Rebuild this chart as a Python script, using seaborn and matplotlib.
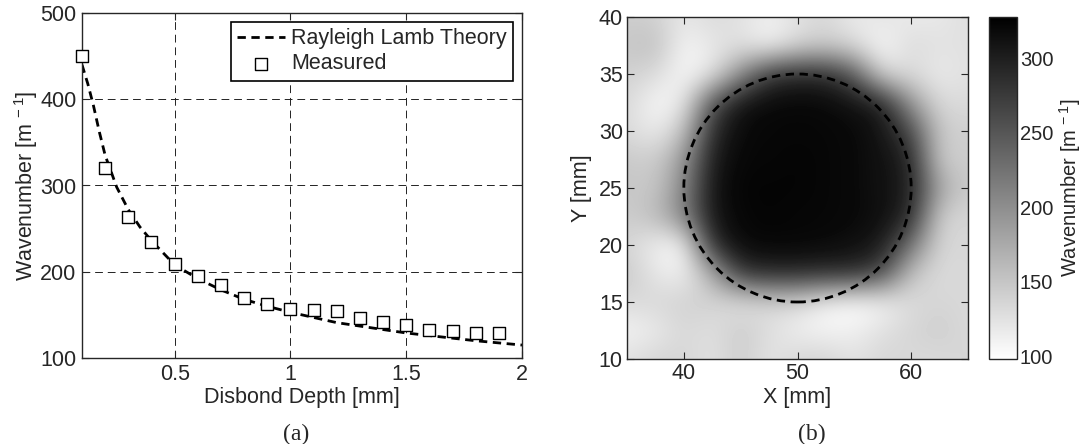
import numpy as np
import matplotlib
matplotlib.use('Agg')
import matplotlib.pyplot as plt
from matplotlib.patches import Circle
import seaborn as sns

# (a) dispersion: theory curve and measured points
theory_depth = [0.1, 0.125, 0.15, 0.175, 0.2, 0.25, 0.3, 0.35, 0.4, 0.45, 0.5,
                0.6, 0.7, 0.8, 0.9, 1.0, 1.1, 1.2, 1.3, 1.4, 1.5, 1.6, 1.7, 1.8, 1.9, 2.0]
theory_wn = [440, 418, 392, 362, 335, 298, 272, 252, 236, 222, 208,
             192, 179, 168, 160, 153, 147, 141, 137, 133, 129, 126, 123, 120, 117.5, 115]
measured_depth = [0.1, 0.2, 0.3, 0.4, 0.5, 0.6, 0.7, 0.8, 0.9, 1.0,
                  1.1, 1.2, 1.3, 1.4, 1.5, 1.6, 1.7, 1.8, 1.9]
measured_wn = [450, 320, 263, 234, 209, 195, 185, 170, 163, 157,
               156, 154, 146, 142, 138, 133, 131, 129.5, 128.5]

# (b) wavenumber map, 2.5 mm grid, rows from Y=40 (top) down to Y=10
map_x = [35, 37.5, 40, 42.5, 45, 47.5, 50, 52.5, 55, 57.5, 60, 62.5, 65]
map_y = [40, 37.5, 35, 32.5, 30, 27.5, 25, 22.5, 20, 17.5, 15, 12.5, 10]
map_wn = [
    [142, 140, 120, 132, 126, 114, 126, 136, 116, 124, 116, 118, 128],
    [148, 158, 106, 120, 126, 104, 132, 142, 130, 102, 132, 124, 126],
    [140, 132, 104, 118, 200, 280, 292, 290, 250, 130, 130, 116, 126],
    [134, 104, 114, 255, 312, 320, 322, 320, 312, 300, 190, 130, 132],
    [132, 114, 150, 290, 320, 322, 322, 322, 320, 310, 265, 145, 142],
    [148, 142, 190, 305, 322, 322, 324, 322, 320, 312, 300, 140, 145],
    [150, 146, 205, 312, 324, 324, 324, 322, 320, 312, 302, 180, 145],
    [144, 158, 210, 310, 322, 324, 322, 322, 320, 315, 295, 138, 136],
    [136, 112, 102, 290, 320, 322, 322, 320, 315, 305, 225, 132, 136],
    [148, 120, 110, 170, 282, 292, 292, 288, 288, 262, 150, 130, 134],
    [132, 134, 140, 138, 124, 134, 132, 108, 98, 108, 130, 136, 132],
    [108, 116, 134, 126, 145, 128, 112, 108, 112, 126, 136, 142, 132],
    [126, 136, 136, 124, 145, 122, 136, 138, 124, 136, 132, 132, 136],
]
wn_min, wn_max = 98, 328
circle_center = (50, 25)
circle_radius = 10

sns.set_style('ticks')
plt.rcParams['font.family'] = ['Liberation Sans', 'DejaVu Sans']
plt.rcParams['mathtext.default'] = 'regular'
plt.rcParams['axes.linewidth'] = 1.0
FS = 15.5

fig = plt.figure(figsize=(10.84, 4.44), dpi=100)
W, H = 1084, 444


def box(x0, y0, x1, y1):
    return [x0 / W, 1 - y1 / H, (x1 - x0) / W, (y1 - y0) / H]


# ---- panel (a)
ax = fig.add_axes(box(82, 13, 522, 358))
sns.lineplot(x=theory_depth, y=theory_wn, ax=ax, color='k', lw=2,
             linestyle=(0, (3, 2)), label='Rayleigh Lamb Theory')
sns.scatterplot(x=measured_depth, y=measured_wn, ax=ax, marker='s', s=80,
                color='white', edgecolor='black', linewidth=1,
                label='Measured', zorder=3, clip_on=False)
ax.set_xlim(0.1, 2)
ax.set_ylim(100, 500)
ax.set_xticks([0.5, 1, 1.5, 2])
ax.set_xticklabels(['0.5', '1', '1.5', '2'])
ax.set_yticks([100, 200, 300, 400, 500])
ax.grid(True, color='#222222', lw=0.7, linestyle=(0, (8, 5)))
ax.tick_params(direction='in', top=True, right=True, length=5,
               labelsize=FS, pad=4, width=0.8)
ax.set_xlabel('Disbond Depth [mm]', fontsize=FS, labelpad=2)
ax.set_ylabel('Wavenumber [m$^{\\,-1}$]', fontsize=FS, labelpad=0)
leg = ax.legend(loc='upper right', fontsize=FS, frameon=True, fancybox=False,
                edgecolor='black', framealpha=1, borderaxespad=0.4,
                handlelength=2.2, handletextpad=0.3, borderpad=0.3,
                labelspacing=0.2)
leg.get_frame().set_linewidth(1.2)
for s in ax.spines.values():
    s.set_visible(True)

# ---- panel (b)
bx = fig.add_axes(box(627, 17, 968, 359))
im = bx.imshow(np.array(map_wn, dtype=float), cmap='gray_r', vmin=wn_min, vmax=wn_max,
               extent=(map_x[0] - 1.25, map_x[-1] + 1.25, map_y[-1] - 1.25, map_y[0] + 1.25),
               origin='upper', interpolation='bicubic', aspect='auto')
bx.add_patch(Circle(circle_center, circle_radius, fill=False, color='k', lw=2,
                    linestyle=(0, (3, 2))))
bx.set_xlim(35, 65)
bx.set_ylim(10, 40)
bx.set_xticks([40, 50, 60])
bx.set_yticks([10, 15, 20, 25, 30, 35, 40])
bx.tick_params(direction='in', top=True, right=True, length=5,
               labelsize=FS, pad=3, width=0.8)
bx.set_xlabel('X [mm]', fontsize=FS, labelpad=2)
bx.set_ylabel('Y [mm]', fontsize=FS, labelpad=5)
for s in bx.spines.values():
    s.set_visible(True)

cax = fig.add_axes(box(989, 17, 1017, 359))
cb = fig.colorbar(im, cax=cax)
cb.set_ticks([100, 150, 200, 250, 300])
cb.outline.set_linewidth(1.0)
cax.tick_params(direction='in', left=True, right=True, length=4,
                labelsize=14.5, pad=2, width=0.8)
cb.set_label('Wavenumber [m$^{\\,-1}$]', fontsize=14.5, labelpad=3)

fig.text(296 / W, 1 - 434 / H, '(a)', ha='center', va='center', fontsize=17,
         family=['Liberation Serif', 'DejaVu Serif'])
fig.text(812 / W, 1 - 434 / H, '(b)', ha='center', va='center', fontsize=17,
         family=['Liberation Serif', 'DejaVu Serif'])

fig.savefig('out.png', dpi=100)
